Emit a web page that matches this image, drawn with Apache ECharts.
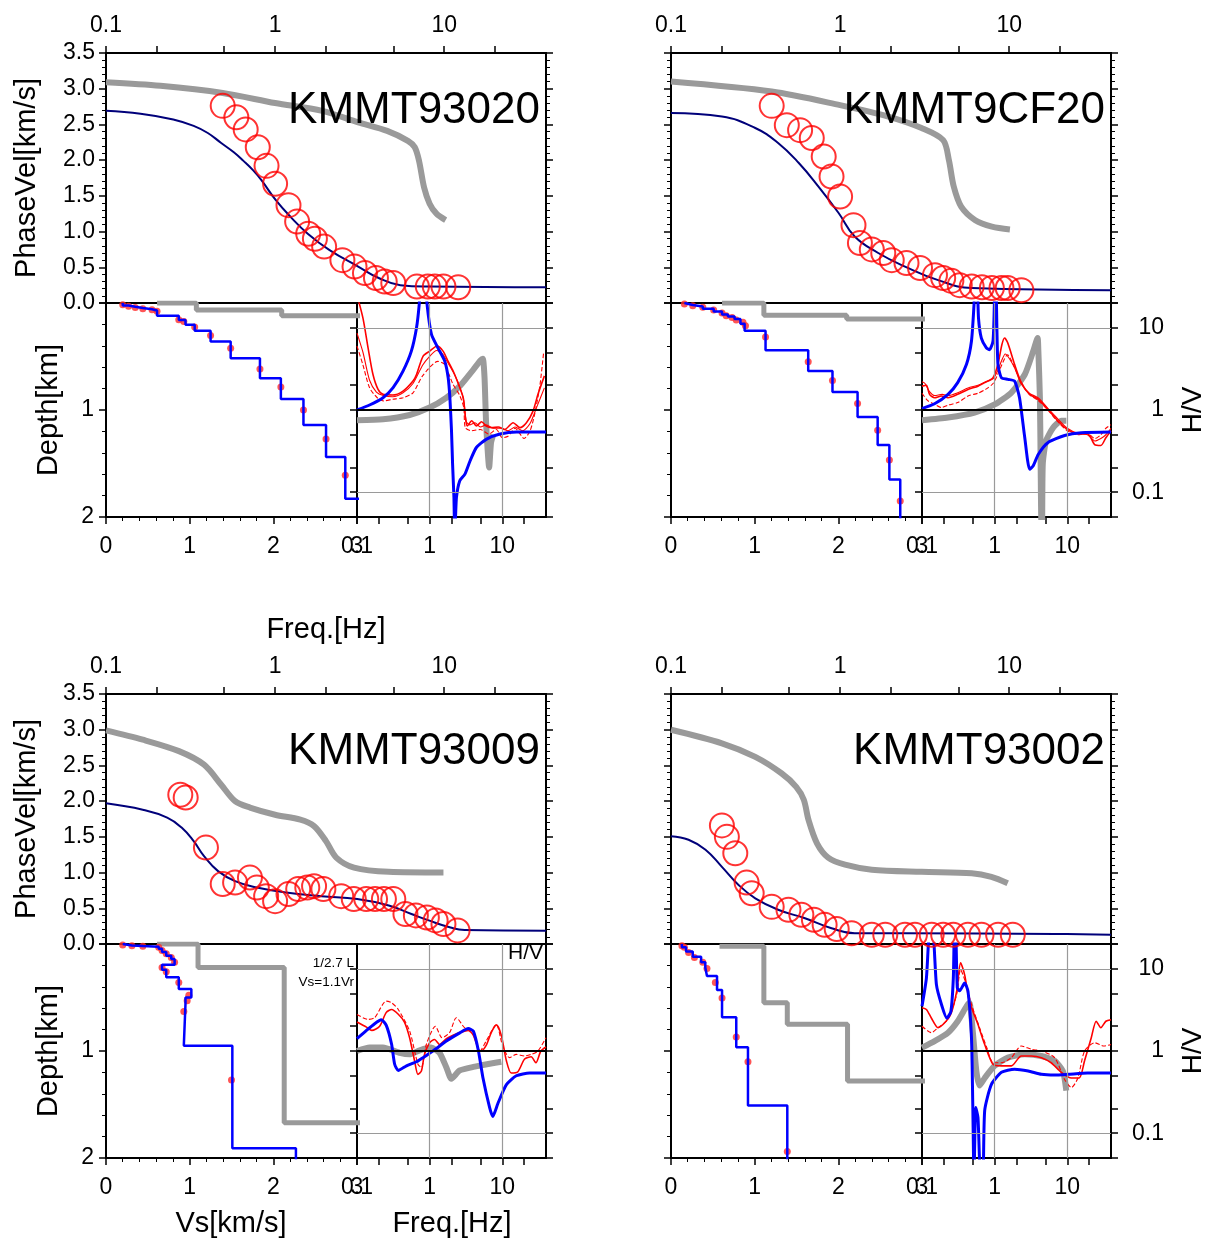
<!DOCTYPE html>
<html>
<head>
<meta charset="utf-8">
<script src="https://cdn.jsdelivr.net/npm/echarts@6.0.0/dist/echarts.min.js"></script>
<style>
html,body{margin:0;padding:0;background:#fff;}
#chart{width:1215px;height:1245px;}
</style>
</head>
<body>
<div id="chart"></div>
<script>
// ---------------- tick values ----------------
const freqTicks = [0.1, 0.2, 0.5, 1, 2, 5, 10, 20];
const freqLabels = [0.1, 1, 10];
const hvTicks = [0.05, 0.1, 0.2, 0.5, 1, 2, 5, 10, 20];
const hvLabels = [0.1, 1, 10];
const stationNames = ['KMMT93020', 'KMMT9CF20', 'KMMT93009', 'KMMT93002'];

// ---------------- phase velocity [Hz, km/s] ----------------
const disp1Init = [[0.1,3.09],[0.21,3.04],[0.49,2.94],[1.0,2.80],[1.9,2.69],[3.1,2.53],[4.6,2.41],[6.1,2.27],[6.7,2.18],[7.1,1.99],[7.6,1.62],[8.2,1.39],[9.0,1.25],[10.2,1.16]];
const disp1Model = [[0.1,2.69],[0.16,2.65],[0.25,2.57],[0.33,2.48],[0.4,2.38],[0.48,2.24],[0.57,2.11],[0.65,1.99],[0.74,1.86],[0.83,1.72],[1.01,1.44],[1.23,1.21],[1.56,0.97],[2.1,0.74],[3.1,0.51],[4.1,0.35],[5.5,0.25],[8.2,0.23],[40,0.22]];
const disp1Obs = [[0.49,2.76],[0.59,2.60],[0.67,2.43],[0.79,2.18],[0.89,1.92],[1.0,1.67],[1.2,1.37],[1.35,1.14],[1.57,0.97],[1.72,0.90],[1.95,0.79],[2.5,0.60],[2.95,0.51],[3.4,0.42],[3.95,0.35],[4.45,0.30],[5.0,0.28],[6.9,0.23],[8.0,0.23],[8.8,0.23],[9.9,0.23],[12.1,0.22]];

const disp2Init = [[0.1,3.10],[0.394,2.96],[1.0,2.77],[1.93,2.61],[3.03,2.45],[4.07,2.28],[4.4,2.0],[4.7,1.63],[5.2,1.35],[6.3,1.16],[7.9,1.07],[10.1,1.03]];
const disp2Model = [[0.1,2.66],[0.2,2.61],[0.315,2.45],[0.43,2.24],[0.57,1.96],[0.745,1.63],[0.98,1.26],[1.22,0.93],[1.68,0.70],[2.42,0.51],[3.8,0.32],[6.0,0.21],[40,0.18]];
const disp2Obs = [[0.394,2.76],[0.484,2.49],[0.58,2.42],[0.68,2.31],[0.80,2.05],[0.89,1.77],[1.0,1.49],[1.2,1.09],[1.31,0.84],[1.54,0.75],[1.80,0.70],[2.02,0.60],[2.47,0.56],[2.97,0.49],[3.64,0.39],[4.07,0.35],[4.55,0.31],[5.1,0.25],[6.0,0.23],[6.9,0.22],[7.9,0.21],[9.0,0.21],[9.8,0.21],[11.8,0.18]];

const disp3Init = [[0.1,2.99],[0.165,2.86],[0.27,2.70],[0.38,2.51],[0.48,2.23],[0.58,2.0],[0.71,1.91],[1.0,1.81],[1.41,1.74],[1.7,1.65],[2.0,1.44],[2.3,1.21],[2.93,1.07],[4.7,1.01],[9.9,1.0]];
const disp3Model = [[0.1,1.97],[0.165,1.88],[0.23,1.77],[0.28,1.63],[0.33,1.44],[0.38,1.23],[0.46,1.02],[0.58,0.88],[0.78,0.79],[1.16,0.72],[1.88,0.67],[3.06,0.63],[4.7,0.54],[6.4,0.42],[8.1,0.33],[10.9,0.23],[13.2,0.195],[40,0.186]];
const disp3Obs = [[0.275,2.09],[0.296,2.05],[0.39,1.35],[0.49,0.84],[0.58,0.86],[0.71,0.93],[0.78,0.79],[0.885,0.67],[1.0,0.60],[1.2,0.70],[1.37,0.77],[1.55,0.79],[1.7,0.81],[1.93,0.77],[2.46,0.67],[2.92,0.63],[3.46,0.63],[3.9,0.63],[4.4,0.63],[5.0,0.63],[5.9,0.42],[6.8,0.40],[7.9,0.37],[8.9,0.33],[9.9,0.28],[12,0.19]];

const disp4Init = [[0.1,3.0],[0.2,2.81],[0.315,2.62],[0.45,2.39],[0.55,2.2],[0.61,2.02],[0.65,1.74],[0.73,1.41],[0.85,1.21],[1.07,1.11],[1.54,1.04],[3.03,1.01],[6.0,0.99],[7.85,0.94],[9.8,0.85]];
const disp4Model = [[0.1,1.51],[0.127,1.46],[0.16,1.32],[0.2,1.08],[0.25,0.83],[0.315,0.64],[0.43,0.48],[0.62,0.36],[0.89,0.22],[1.22,0.15],[2.42,0.15],[18.6,0.14],[40,0.13]];
const disp4Obs = [[0.2,1.66],[0.214,1.50],[0.24,1.27],[0.28,0.86],[0.30,0.71],[0.394,0.52],[0.495,0.48],[0.59,0.41],[0.70,0.34],[0.81,0.27],[0.955,0.21],[1.17,0.15],[1.54,0.13],[1.85,0.13],[2.42,0.13],[2.77,0.13],[3.48,0.13],[4.07,0.13],[4.67,0.13],[5.7,0.13],[6.86,0.13],[8.6,0.13],[10.5,0.13]];

// ---------------- Vs layer models: Vs [km/s], layer top depth [km], base depth ----------------
const prof1InitVs = [0.61, 1.08, 2.1, 3.3];
const prof1InitTop = [0, 0, 0.065, 0.118];
const prof1Vs = [0.20, 0.27, 0.35, 0.44, 0.55, 0.61, 0.87, 0.95, 1.06, 1.25, 1.49, 1.84, 2.09, 2.36, 2.63, 2.86, 3.1];
const prof1Top = [0, 0.024, 0.036, 0.047, 0.058, 0.07, 0.119, 0.16, 0.203, 0.259, 0.359, 0.516, 0.703, 0.897, 1.14, 1.44, 1.83];
const prof1Dots = [[0.20,0.016],[0.27,0.031],[0.35,0.041],[0.44,0.053],[0.55,0.063],[0.61,0.078],[0.87,0.156],[0.93,0.172],[1.06,0.225],[1.25,0.303],[1.49,0.422],[1.84,0.616],[2.09,0.784],[2.36,1.0],[2.63,1.27],[2.86,1.61]];

const prof2InitVs = [0.61, 1.11, 2.1, 3.3];
const prof2InitTop = [0, 0, 0.115, 0.15];
const prof2Vs = [0.16, 0.26, 0.38, 0.51, 0.61, 0.68, 0.76, 0.83, 0.88, 1.13, 1.64, 1.93, 2.23, 2.47, 2.61, 2.74];
const prof2Top = [0, 0.018, 0.033, 0.053, 0.08, 0.107, 0.127, 0.15, 0.195, 0.26, 0.442, 0.636, 0.831, 1.066, 1.326, 1.649];
const prof2Dots = [[0.16,0.01],[0.26,0.025],[0.38,0.04],[0.51,0.066],[0.61,0.094],[0.66,0.119],[0.73,0.135],[0.78,0.16],[0.86,0.18],[0.89,0.213],[1.13,0.317],[1.64,0.549],[1.93,0.724],[2.23,0.94],[2.47,1.19],[2.61,1.467],[2.74,1.85]];

const prof3InitVs = [0.61, 1.1, 2.13, 3.3];
const prof3InitTop = [0, 0, 0.22, 1.67];
const prof3Vs = [0.20, 0.31, 0.44, 0.63, 0.67, 0.72, 0.78, 0.82, 0.67, 0.72, 0.87, 1.02, 0.95, 0.93, 1.51, 2.27];
const prof3Top = [0, 0.013, 0.019, 0.026, 0.045, 0.075, 0.11, 0.14, 0.195, 0.24, 0.31, 0.42, 0.5, 0.56, 0.95, 1.91];
const prof3Dots = [[0.2,0.01],[0.31,0.016],[0.44,0.022],[0.63,0.03],[0.67,0.06],[0.72,0.09],[0.78,0.125],[0.82,0.17],[0.67,0.22],[0.72,0.26],[0.87,0.36],[0.99,0.48],[0.97,0.53],[0.93,0.63],[1.5,1.27]];

const prof4InitVs = [0.58, 1.11, 1.39, 2.11, 3.3];
const prof4InitTop = [0.02, 0.02, 0.55, 0.75, 1.28];
const prof4Vs = [0.13, 0.18, 0.26, 0.36, 0.41, 0.43, 0.55, 0.61, 0.78, 0.92, 1.39];
const prof4Top = [0, 0.03, 0.07, 0.12, 0.17, 0.22, 0.30, 0.43, 0.685, 0.966, 1.51];
const prof4Dots = [[0.13,0.016],[0.16,0.03],[0.21,0.08],[0.28,0.125],[0.38,0.17],[0.43,0.23],[0.53,0.36],[0.61,0.505],[0.78,0.87],[0.92,1.10],[1.39,1.94]];

// ---------------- H/V spectral ratios [Hz, ratio] ----------------
const hv1Init = [[0.1,0.75],[0.228,0.77],[0.53,0.87],[1.0,1.07],[1.7,1.41],[2.6,1.95],[4.0,3.1],[5.0,4.0],[5.4,4.2],[5.7,2.47],[6.0,0.67],[6.6,0.2],[7.0,0.4],[7.5,0.5]];
const hv1Model = [[0.1,1.0],[0.149,1.15],[0.228,1.41],[0.314,1.87],[0.43,2.97],[0.56,5.2],[0.66,10],[0.72,19.5],[0.76,40],[0.88,40],[0.92,19.5],[1.06,8.3],[1.3,5.7],[1.62,3.9],[1.8,2.47],[1.9,1.41],[2.0,0.56],[2.07,0.22],[2.16,0.087],[2.2,0.045],[2.25,0.045],[2.34,0.087],[2.6,0.138],[3.06,0.166],[3.6,0.24],[4.4,0.35],[6.0,0.44],[9.3,0.51],[15.8,0.54],[40,0.54]];
const hv1ObsA = [[0.1,25],[0.121,13],[0.142,5.7],[0.166,2.7],[0.195,1.78],[0.228,1.55],[0.31,1.52],[0.43,1.7],[0.59,2.25],[0.66,2.7],[0.81,4.5],[1.0,5.2],[1.27,6.0],[1.53,5.2],[1.8,3.9],[2.1,3.0],[2.5,2.05],[2.9,1.41],[3.15,0.74],[3.3,0.64],[3.8,0.74],[4.4,0.64],[5.2,0.72],[6.0,0.64],[7.1,0.61],[8.8,0.62],[10.8,0.58],[14.1,0.70],[17.5,0.61],[21.5,0.70],[26.5,0.97],[31,1.55],[38,2.6]];
const hv1ObsB = [[0.1,8.6],[0.121,5.0],[0.149,2.3],[0.185,1.65],[0.23,1.5],[0.31,1.45],[0.43,1.62],[0.59,2.1],[0.8,3.5],[1.0,4.5],[1.25,5.3],[1.5,4.8],[1.8,3.7],[2.2,2.7],[2.6,1.9],[2.95,1.3],[3.2,0.72],[3.6,0.66],[4.2,0.7],[5.0,0.62],[6.0,0.66],[7.5,0.6],[9.5,0.6],[12,0.56],[15,0.62],[19,0.56],[24,0.68],[30,1.1],[38,1.86]];
const hv1ObsC = [[0.1,6.0],[0.12,3.6],[0.149,1.86],[0.19,1.41],[0.23,1.29],[0.31,1.35],[0.43,1.41],[0.59,1.62],[0.8,2.6],[1.3,3.9],[1.6,3.6],[2.1,2.05],[2.6,1.5],[2.95,1.07],[3.1,0.61],[3.8,0.56],[5.0,0.58],[6.5,0.51],[8.3,0.58],[10,0.46],[12,0.48],[15,0.6],[20,0.45],[24,0.55],[28,0.9],[33,2.0],[37,4.9]];

const hv2Init = [[0.1,0.75],[0.228,0.81],[0.53,0.93],[1.0,1.17],[1.69,1.62],[2.6,2.7],[3.4,5.2],[3.9,7.5],[4.0,5.2],[4.2,1.41],[4.3,0.22],[4.4,0.045],[4.5,0.045],[4.6,0.22],[5.1,0.42],[6.4,0.61],[8.3,0.74],[9.7,0.74]];
const hv2Model = [[0.1,1.04],[0.149,1.19],[0.228,1.55],[0.31,2.15],[0.41,3.6],[0.48,6.9],[0.52,19],[0.54,40],[0.57,40],[0.6,13],[0.656,7.5],[0.77,5.7],[0.85,5.4],[0.95,6.9],[0.99,19],[1.0,40],[1.04,40],[1.06,19],[1.11,3.6],[1.24,2.47],[1.52,2.36],[1.88,2.25],[2.2,1.41],[2.6,0.46],[3.03,0.19],[3.4,0.21],[4.0,0.29],[5.4,0.40],[9.2,0.49],[15.6,0.53],[40,0.54]];
const hv2ObsA = [[0.1,1.95],[0.115,2.0],[0.127,1.55],[0.149,1.41],[0.185,1.48],[0.228,1.41],[0.31,1.55],[0.43,1.78],[0.59,1.95],[0.73,2.15],[0.95,2.47],[1.11,3.6],[1.26,6.25],[1.37,7.5],[1.52,6.5],[1.88,3.6],[2.33,2.15],[3.03,1.55],[4.0,1.35],[5.4,1.02],[7.4,0.74],[10,0.58],[14,0.51],[19.2,0.51],[23.8,0.38],[29,0.37],[34,0.46],[40,0.56]];
const hv2ObsB = [[0.1,2.2],[0.11,2.1],[0.125,1.7],[0.15,1.5],[0.19,1.55],[0.23,1.5],[0.31,1.62],[0.43,1.85],[0.59,2.0],[0.75,2.2],[0.95,2.4],[1.1,3.0],[1.25,4.0],[1.4,4.8],[1.6,4.2],[1.9,3.2],[2.3,2.1],[3.0,1.6],[4.0,1.4],[5.4,1.05],[7.4,0.78],[10,0.6],[14,0.52],[19,0.5],[24,0.42],[29,0.45],[34,0.5],[40,0.6]];
const hv2ObsC = [[0.1,1.6],[0.12,1.3],[0.15,1.17],[0.185,1.07],[0.23,1.15],[0.31,1.23],[0.43,1.48],[0.59,1.6],[0.75,1.78],[0.95,2.1],[1.1,2.7],[1.3,3.8],[1.5,4.7],[1.8,3.6],[2.3,2.2],[3.0,1.55],[4.0,1.3],[5.4,1.0],[7.4,0.72],[10,0.56],[14,0.5],[19,0.52],[24,0.45],[29,0.5],[34,0.6],[40,0.66]];

const hv3Init = [[0.1,1.0],[0.149,1.1],[0.228,1.1],[0.386,0.95],[0.53,0.91],[0.73,1.02],[1.05,1.1],[1.37,0.95],[1.7,0.63],[1.99,0.46],[2.6,0.58],[4.0,0.64],[6.7,0.70],[9.7,0.74]];
const hv3Model = [[0.1,1.41],[0.135,1.78],[0.175,2.15],[0.216,2.4],[0.253,2.05],[0.3,1.2],[0.33,0.69],[0.37,0.58],[0.48,0.66],[0.66,0.74],[0.81,0.83],[1.11,1.0],[1.7,1.32],[2.6,1.66],[3.4,1.88],[4.0,1.74],[4.7,1.0],[5.4,0.48],[6.7,0.205],[7.4,0.16],[8.7,0.23],[11.4,0.39],[15.6,0.50],[23.8,0.54],[40,0.54]];
const hv3ObsA = [[0.1,2.25],[0.135,1.95],[0.16,1.78],[0.205,2.0],[0.253,2.95],[0.3,3.2],[0.37,2.8],[0.45,2.25],[0.53,1.45],[0.62,0.76],[0.69,0.52],[0.77,0.57],[0.85,0.91],[1.0,1.26],[1.17,1.38],[1.37,1.2],[1.7,1.41],[2.1,1.55],[2.73,1.7],[3.4,1.78],[4.0,1.55],[4.7,1.05],[5.1,1.0],[6.0,1.17],[7.1,1.7],[8.3,2.08],[9.7,1.55],[11.4,0.76],[13.3,0.54],[16.4,0.56],[20.3,0.8],[25,0.85],[29,0.72],[34,1.0],[40,1.12]];
const hv3ObsC = [[0.1,2.78],[0.142,2.42],[0.175,2.54],[0.253,4.04],[0.3,3.85],[0.37,3.2],[0.53,1.75],[0.69,0.69],[0.77,0.63],[0.9,1.2],[1.2,2.0],[1.48,1.45],[1.88,1.67],[2.33,2.54],[3.03,1.92],[4.0,1.67],[4.93,1.0],[6.0,1.32],[8.3,2.1],[10,1.2],[12.6,0.83],[15.6,0.91],[20.3,0.87],[25,0.91],[31,1.0],[40,1.45]];

const hv4Init = [[0.1,1.1],[0.149,1.32],[0.228,1.67],[0.31,2.3],[0.41,3.5],[0.45,3.85],[0.5,1.74],[0.56,0.57],[0.62,0.38],[0.73,0.47],[1.0,0.66],[1.52,0.83],[2.6,0.91],[4.4,0.87],[6.7,0.76],[8.7,0.57],[9.7,0.33]];
const hv4Model = [[0.1,3.5],[0.115,7.7],[0.128,30],[0.14,30],[0.158,6.4],[0.185,3.7],[0.22,2.5],[0.25,3.05],[0.27,7.7],[0.28,30],[0.29,30],[0.306,5.9],[0.33,5.4],[0.386,6.7],[0.43,5.3],[0.48,1.45],[0.50,0.226],[0.52,0.03],[0.55,0.205],[0.59,0.155],[0.64,0.03],[0.69,0.03],[0.73,0.19],[0.90,0.39],[1.24,0.55],[1.88,0.60],[2.9,0.57],[4.4,0.52],[6.7,0.51],[10.2,0.52],[19,0.54],[40,0.54]];
const hv4ObsA = [[0.1,3.35],[0.115,3.2],[0.135,2.5],[0.166,1.92],[0.205,2.2],[0.253,2.9],[0.3,5.3],[0.34,11.8],[0.386,8.5],[0.45,4.0],[0.59,2.1],[0.73,1.2],[0.95,0.69],[1.24,0.66],[1.7,0.66],[2.33,0.87],[3.2,0.87],[4.4,0.83],[6.0,0.72],[8.3,0.55],[11.4,0.47],[14.6,0.47],[17.3,0.76],[21.4,1.45],[25,2.3],[29,1.92],[34,2.3],[40,2.4]];
const hv4ObsC = [[0.1,2.0],[0.135,1.67],[0.166,1.92],[0.228,2.42],[0.3,4.86],[0.34,9.8],[0.386,7.4],[0.48,3.7],[0.62,1.92],[0.78,1.1],[0.95,0.72],[1.24,0.72],[1.7,0.83],[2.33,1.15],[3.2,1.05],[4.4,1.0],[6.7,0.83],[9.2,0.45],[11.4,0.36],[14,0.47],[17.3,1.0],[23.8,1.26],[32,1.15],[40,1.2]];

// ---------------- layout / styling ----------------
const FONT = "'Liberation Sans', Arial, Helvetica, sans-serif";
const INK = '#000';
const GREY = '#9a9a9a';
const DISP_W = 440, DISP_H = 250, PROF_W = 251, LOW_H = 214;

const panels = [
  {x0: 106, y0: 53,  left: true,  right: false,
   disp: [disp1Init, disp1Model, disp1Obs],
   prof: {init: [prof1InitVs, prof1InitTop, 2.5], model: [prof1Vs, prof1Top, 2.2], dots: prof1Dots},
   hv: {init: hv1Init, model: hv1Model, obs: [[hv1ObsA,'solid',1.6],[hv1ObsB,'solid',1.1],[hv1ObsC,'dashed',1.1]]}},
  {x0: 671, y0: 53,  left: false, right: true,
   disp: [disp2Init, disp2Model, disp2Obs],
   prof: {init: [prof2InitVs, prof2InitTop, 2.5], model: [prof2Vs, prof2Top, 2.1], dots: prof2Dots},
   hv: {init: hv2Init, model: hv2Model, obs: [[hv2ObsA,'solid',1.6],[hv2ObsB,'solid',1.1],[hv2ObsC,'dashed',1.1]]}},
  {x0: 106, y0: 694, left: true,  right: false,
   disp: [disp3Init, disp3Model, disp3Obs],
   prof: {init: [prof3InitVs, prof3InitTop, 2.5], model: [prof3Vs, prof3Top, 2.1], dots: prof3Dots},
   hv: {init: hv3Init, model: hv3Model, obs: [[hv3ObsA,'solid',1.6],[hv3ObsC,'dashed',1.1]]}},
  {x0: 671, y0: 694, left: false, right: true,
   disp: [disp4Init, disp4Model, disp4Obs],
   prof: {init: [prof4InitVs, prof4InitTop, 2.5], model: [prof4Vs, prof4Top, 2.1], dots: prof4Dots},
   hv: {init: hv4Init, model: hv4Model, obs: [[hv4ObsA,'solid',1.6],[hv4ObsC,'dashed',1.1]]}}
];

// staircase polyline of a layered model: each layer is a vertical segment at its Vs
function stepPath(vs, tops, base) {
  const pts = [];
  for (let i = 0; i < vs.length; i++) {
    const bottom = i + 1 < vs.length ? tops[i + 1] : base;
    pts.push([vs[i], tops[i]], [vs[i], bottom]);
  }
  return pts;
}

function logLabel(v) {
  const r = +Number(v).toPrecision(6);
  if (r === 0.1) return '0.1';
  if (r === 1) return '1';
  if (r === 10) return '10';
  return '';
}

const axisLine = {show: true, onZero: false, lineStyle: {color: INK, width: 2}};
const majorTick = (len) => ({show: true, inside: false, length: len, lineStyle: {color: INK, width: 1.5}});
const minorTick = {show: true, splitNumber: 5, length: 4, lineStyle: {color: INK, width: 1}};
const labelBase = {color: INK, fontSize: 23, fontFamily: FONT};
const noSplit = {show: false};

const grid = [], xAxis = [], yAxis = [], series = [], graphic = [];

function text(str, x, y, size, align, rot) {
  graphic.push({
    type: 'text', x: x, y: y, rotation: rot || 0, z: 100, silent: true,
    style: {text: str, fontSize: size, fontFamily: FONT, fill: INK,
            align: align || 'center', verticalAlign: 'middle'}
  });
}

panels.forEach((p, i) => {
  const gi = grid.length, xi = xAxis.length, yi = yAxis.length;
  const gridBox = {show: true, borderColor: INK, borderWidth: 2, backgroundColor: 'transparent'};
  grid.push(Object.assign({left: p.x0, top: p.y0, width: DISP_W, height: DISP_H}, gridBox));
  grid.push(Object.assign({left: p.x0, top: p.y0 + DISP_H, width: PROF_W, height: LOW_H}, gridBox));
  grid.push(Object.assign({left: p.x0 + PROF_W, top: p.y0 + DISP_H, width: DISP_W - PROF_W, height: LOW_H}, gridBox));

  // phase-velocity frame
  xAxis.push({gridIndex: gi, type: 'log', logBase: 10, min: 0.1, max: 40, position: 'top',
    axisLine, axisTick: Object.assign(majorTick(7), {customValues: freqTicks}),
    axisLabel: Object.assign({customValues: freqLabels, formatter: logLabel, margin: 16}, labelBase),
    splitLine: noSplit});
  yAxis.push({gridIndex: gi, type: 'value', min: 0, max: 3.5, interval: 0.5, position: 'left',
    axisLine, axisTick: majorTick(7), minorTick,
    axisLabel: Object.assign({show: p.left, margin: 11, formatter: v => v.toFixed(1)}, labelBase),
    splitLine: noSplit, minorSplitLine: noSplit});
  yAxis.push({gridIndex: gi, type: 'value', min: 0, max: 3.5, interval: 0.5, position: 'right',
    axisLine, axisTick: majorTick(7), minorTick, axisLabel: {show: false},
    splitLine: noSplit, minorSplitLine: noSplit});

  // Vs profile frame (its 0 depth shares the 0.0 label of the frame above)
  xAxis.push({gridIndex: gi + 1, type: 'value', min: 0, max: 3, interval: 1, position: 'bottom',
    axisLine, axisTick: majorTick(7), minorTick,
    axisLabel: Object.assign({margin: 18}, labelBase),
    splitLine: noSplit, minorSplitLine: noSplit});
  yAxis.push({gridIndex: gi + 1, type: 'value', min: 0, max: 2, interval: 1, inverse: true, position: 'left',
    axisLine, axisTick: majorTick(7), minorTick,
    axisLabel: Object.assign({show: p.left, margin: 12, formatter: v => (v === 0 ? '' : String(v))}, labelBase),
    splitLine: noSplit, minorSplitLine: noSplit});

  // H/V frame
  xAxis.push({gridIndex: gi + 2, type: 'log', logBase: 10, min: 0.1, max: 40, position: 'bottom',
    axisLine, axisTick: Object.assign(majorTick(7), {customValues: freqTicks}),
    axisLabel: Object.assign({customValues: freqLabels, formatter: logLabel, margin: 18}, labelBase),
    splitLine: noSplit});
  yAxis.push({gridIndex: gi + 2, type: 'log', logBase: 10, min: 0.05, max: 20, position: 'left',
    axisLine, axisTick: Object.assign(majorTick(7), {customValues: hvTicks}),
    axisLabel: {show: false}, splitLine: noSplit});
  yAxis.push({gridIndex: gi + 2, type: 'log', logBase: 10, min: 0.05, max: 20, position: 'right',
    axisLine, axisTick: Object.assign(majorTick(7), {customValues: hvTicks}),
    axisLabel: Object.assign({show: p.right, customValues: hvLabels, formatter: logLabel, align: 'right', margin: 53}, labelBase),
    splitLine: noSplit});

  const dX = xi, dY = yi, pX = xi + 1, pY = yi + 2, hX = xi + 2, hY = yi + 3;
  const plain = {type: 'line', symbol: 'none', silent: true, animation: false};

  // dispersion curves
  series.push(Object.assign({}, plain, {xAxisIndex: dX, yAxisIndex: dY, data: p.disp[0], smooth: 0.3, z: 2,
    lineStyle: {color: GREY, width: 6}}));
  series.push(Object.assign({}, plain, {xAxisIndex: dX, yAxisIndex: dY, data: p.disp[1], smooth: 0.45, z: 3,
    lineStyle: {color: '#00007a', width: 2}}));
  series.push({type: 'scatter', xAxisIndex: dX, yAxisIndex: dY, data: p.disp[2], symbol: 'circle', symbolSize: 24,
    clip: false, silent: true, animation: false, z: 6,
    itemStyle: {color: 'rgba(0,0,0,0)', borderColor: '#ff0000', borderWidth: 2}});

  // Vs profiles
  series.push(Object.assign({}, plain, {xAxisIndex: pX, yAxisIndex: pY, data: stepPath(...p.prof.init), z: 2,
    lineStyle: {color: GREY, width: 5}}));
  series.push({type: 'scatter', xAxisIndex: pX, yAxisIndex: pY, data: p.prof.dots, symbol: 'circle', symbolSize: 7,
    silent: true, animation: false, z: 3, itemStyle: {color: '#ff2a2a', opacity: 0.8}});
  series.push(Object.assign({}, plain, {xAxisIndex: pX, yAxisIndex: pY, data: stepPath(...p.prof.model), z: 4,
    lineStyle: {color: '#0000ff', width: 2.5}}));

  // H/V curves (grid lines carried on the lowest series)
  const gl = {color: GREY, width: 1.2, type: 'solid'};
  series.push(Object.assign({}, plain, {xAxisIndex: hX, yAxisIndex: hY, data: p.hv.init, smooth: 0.2, z: 2,
    lineStyle: {color: GREY, width: 6},
    markLine: {silent: true, symbol: 'none', animation: false, label: {show: false},
      data: [
        {xAxis: 1, lineStyle: gl}, {xAxis: 10, lineStyle: gl},
        {yAxis: 10, lineStyle: gl}, {yAxis: 0.1, lineStyle: gl},
        {yAxis: 1, lineStyle: {color: INK, width: 2, type: 'solid'}}
      ]}}));
  p.hv.obs.forEach(([d, style, w]) => {
    series.push(Object.assign({}, plain, {xAxisIndex: hX, yAxisIndex: hY, data: d, smooth: 0.25, z: 3,
      lineStyle: {color: '#ff0000', width: w, type: style}}));
  });
  series.push(Object.assign({}, plain, {xAxisIndex: hX, yAxisIndex: hY, data: p.hv.model, smooth: 0.2, z: 4,
    lineStyle: {color: '#0000ff', width: 3}}));

  // station name
  text(stationNames[i], p.x0 + DISP_W - 6, p.y0 + 58, 44, 'right');
  if (p.left) {
    text('PhaseVel[km/s]', 27, p.y0 + DISP_H / 2, 29, 'center', Math.PI / 2);
    text('Depth[km]', 49, p.y0 + DISP_H + LOW_H / 2, 29, 'center', Math.PI / 2);
  }
  if (p.right) {
    text('H/V', 1193, p.y0 + DISP_H + LOW_H / 2, 28, 'center', Math.PI / 2);
  }
});

// axis titles and notes around the lower-left panel
text('Freq.[Hz]', 326, 630, 29);
text('Vs[km/s]', 231, 1224, 29);
text('Freq.[Hz]', 452, 1224, 29);
text('1/2.7 L', 354, 963, 13.5, 'right');
text('Vs=1.1Vr', 354, 982, 13.5, 'right');
text('H/V', 543, 953, 21, 'right');

const chart = echarts.init(document.getElementById('chart'), null, {renderer: 'canvas'});
chart.setOption({
  animation: false,
  backgroundColor: '#ffffff',
  grid, xAxis, yAxis, series, graphic
});
</script>
</body>
</html>
